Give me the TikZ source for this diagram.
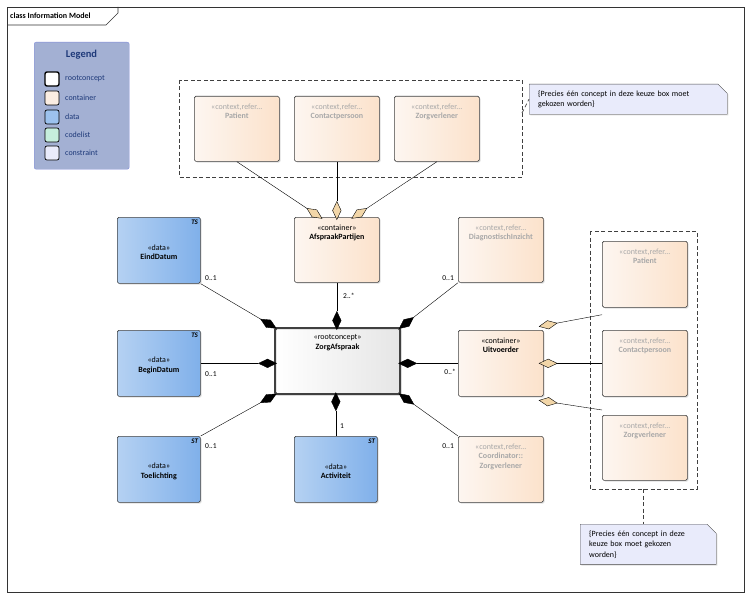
\documentclass[tikz,border=0pt]{standalone}
\usepackage{fontspec}
\setmainfont{Carlito}
\usetikzlibrary{arrows.meta,shadows,shapes.misc}
\definecolor{cont}{HTML}{FBEDE2}
\definecolor{datab}{HTML}{9CC2EE}
\definecolor{datar}{HTML}{80B0EA}
\definecolor{ghost}{HTML}{A8A8A8}
\definecolor{legf}{HTML}{A3B0D3}
\definecolor{legt}{HTML}{1F3A7A}
\definecolor{notef}{HTML}{E9EBFB}
\definecolor{codef}{HTML}{C6EEDD}
\definecolor{aggf}{HTML}{F2D6A8}
\begin{document}
\begin{tikzpicture}[x=1pt,y=-1pt,font=\fontsize{8}{9.5}\selectfont,
 box/.style={draw=black!75,rounded corners=1.5pt,line width=0.7pt,anchor=north west,inner sep=0pt,drop shadow={shadow xshift=1.2pt,shadow yshift=-1.2pt,opacity=0.25}},
 ctx/.style={box,left color=cont!50!white,right color=cont!90!orange,align=center},
 dat/.style={box,left color=datab!75!white,right color=datar,align=center},
 st/.style={font=\fontsize{8}{9.5}\selectfont\color{ghost},align=center},
 lbl/.style={font=\fontsize{7.5}{8}\selectfont,inner sep=1pt},
 comp/.style={{Diamond[length=19pt,width=9pt,fill=black]}-,shorten <=-3pt},
 agg/.style={{Diamond[length=19pt,width=9pt,fill=aggf]}-,shorten <=-3pt},
 dsh/.style={draw=black!75,dash pattern=on 4pt off 2.5pt,line width=0.7pt},
 note/.style={draw=black!70,fill=notef,inner sep=3pt,align=left,anchor=north west,font=\fontsize{8}{10.5}\selectfont,chamfered rectangle,chamfered rectangle corners=north east,chamfered rectangle xsep=6pt,drop shadow={shadow xshift=1.2pt,shadow yshift=-1.2pt,opacity=0.25}}]
\useasboundingbox (0,0) rectangle (749,599);
\fill[white] (0,0) rectangle (749,599);
% frame
\draw[black!80,line width=0.6pt] (7,7) rectangle (744,592);
\draw[black!80,line width=0.6pt] (7,25) -- (106,25) -- (118,13) -- (118,7);
\node[anchor=west,font=\fontsize{8}{9}\selectfont\bfseries,inner sep=0pt] (title) at (10,16) {class Information Model};
% legend
\node[draw=legf!80!blue,fill=legf,rounded corners=2pt,minimum width=95pt,minimum height=127pt,anchor=north west] (leg) at (34,42) {};
\node[font=\fontsize{10.5}{12}\selectfont\bfseries\color{legt}] (legtitle) at (81.5,55) {Legend};
\foreach \y/\f/\t/\w [count=\i] in {79/white/rootconcept/1.4pt,98/cont/container/0.7pt,117/datab/data/0.7pt,135/codef/codelist/0.7pt,153/notef/constraint/0.7pt}{
 \node[draw=black,fill=\f,line width=\w,rounded corners=2pt,minimum width=14pt,minimum height=14pt,inner sep=0pt] (sw\i) at (52,\y) {};
 \node[anchor=west,text=legt,inner sep=0pt] (lt\i) at (65,\y) {\t};
}
% top choice box
\draw[dsh] (179,80) rectangle (522,177);
\node[ctx,minimum width=85pt,minimum height=65pt] (p1) at (194,96) {};
\node[ctx,minimum width=85pt,minimum height=65pt] (c1) at (294,96) {};
\node[ctx,minimum width=85pt,minimum height=65pt] (z1) at (394,96) {};
\foreach \n/\t in {p1/Patient,c1/Contactpersoon,z1/Zorgverlener}{
 \node[st,anchor=north] at ([yshift=-4pt]\n.north) {«context,refer...\\\textbf{\t}};
}
\node[note,text width=180pt] (n1) at (529,84) {\{Precies één concept in deze keuze box moet\\gekozen worden\}};
\coordinate (n1a) at (522,113);
\draw[dsh] (n1a) -- (n1.west);
% main nodes
\node[ctx,minimum width=85pt,minimum height=65pt] (ap) at (294,217) {};
\node[anchor=north,align=center] at ([yshift=-4pt]ap.north) {«container»\\\textbf{AfspraakPartijen}};
\node[ctx,minimum width=85pt,minimum height=65pt] (di) at (458,217) {};
\node[st,anchor=north] at ([yshift=-4pt]di.north) {«context,refer...\\\textbf{DiagnostischInzicht}};
\node[box,line width=2.2pt,left color=white,right color=black!10,minimum width=125pt,minimum height=66pt] (za) at (274,327) {};
\node[anchor=north,align=center] at ([yshift=-4pt]za.north) {«rootconcept»\\\textbf{ZorgAfspraak}};
\node[ctx,minimum width=85pt,minimum height=66pt] (uv) at (458,330) {};
\node[anchor=north,align=center] at ([yshift=-4pt]uv.north) {«container»\\\textbf{Uitvoerder}};
\node[ctx,minimum width=85pt,minimum height=66pt] (co) at (458,436) {};
\node[st,anchor=north] at ([yshift=-4pt]co.north) {«context,refer...\\\textbf{Coordinator::}\\\textbf{Zorgverlener}};
\foreach \n/\t/\x/\y/\k in {ed/EindDatum/117/217/TS,bd/BeginDatum/117/330/TS,to/Toelichting/117/436/ST,ac/Activiteit/294/436/ST}{
 \node[dat,minimum width=83pt,minimum height=66pt] (\n) at (\x,\y) {};
 \node[anchor=center,align=center] at ([yshift=-2pt]\n.center) {«data»\\\textbf{\t}};
 \node[anchor=north east,font=\fontsize{7}{8}\selectfont\bfseries\itshape,inner sep=2.5pt] at (\n.north east) {\k};
}
% right choice box
\draw[dsh] (590,231) rectangle (697,489);
\node[ctx,minimum width=85pt,minimum height=66pt] (p2) at (602,241) {};
\node[ctx,minimum width=85pt,minimum height=66pt] (c2) at (602,330) {};
\node[ctx,minimum width=85pt,minimum height=65pt] (z2) at (602,415) {};
\foreach \n/\t in {p2/Patient,c2/Contactpersoon,z2/Zorgverlener}{
 \node[st,anchor=north] at ([yshift=-4pt]\n.north) {«context,refer...\\\textbf{\t}};
}
\node[note,text width=118pt] (n2) at (580,524) {\{Precies één concept in deze\\keuze box moet gekozen\\worden\}};
\coordinate (n2a) at (643,489);
\draw[dsh] (n2a) -- (643,524);
% compositions
\draw[comp] (za.north west) -- (ed.south east);
\draw[comp] (za.west |- bd.east) -- (bd.east);
\draw[comp] (za.south west) -- (to.north east);
\draw[comp] (za.south -| ac.north) -- (ac.north);
\draw[comp] (za.north -| ap.south) -- (ap.south);
\draw[comp] (za.north east) -- (di.south west);
\draw[comp] (za.east |- uv.west) -- (uv.west);
\draw[comp] (za.south east) -- (co.north west);
% aggregations
\draw[agg] ([xshift=-17pt]ap.north) -- (p1.south);
\draw[agg] (ap.north) -- (c1.south);
\draw[agg] ([xshift=17pt]ap.north) -- (z1.south);
\draw[agg] ([xshift=-2pt,yshift=4pt]uv.north east) -- ([yshift=-7pt]p2.south west);
\draw[agg] ([xshift=-2pt]uv.east) -- (uv.east -| c2.west);
\draw[agg] ([xshift=-2pt,yshift=-4pt]uv.south east) -- ([yshift=5pt]z2.north west);
% multiplicities
\node[lbl,anchor=west] at (204,278) {0..1};
\node[lbl,anchor=west] at (204,374) {0..1};
\node[lbl,anchor=west] at (204,446) {0..1};
\node[lbl,anchor=west] at (342,296) {2..*};
\node[lbl,anchor=west] at (339,426) {1};
\node[lbl,anchor=east] at (455,278) {0..1};
\node[lbl,anchor=east] at (457,372) {0..*};
\node[lbl,anchor=east] at (455,446) {0..1};
\end{tikzpicture}
\end{document}
